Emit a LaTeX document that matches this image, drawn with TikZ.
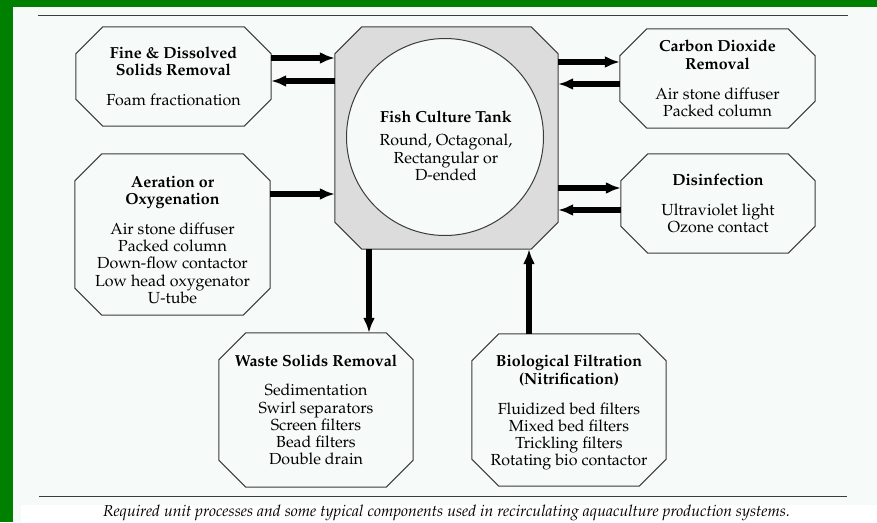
\documentclass[tikz,border=0pt]{standalone}
\usepackage[T1]{fontenc}
\usepackage{mathpazo}
\usepackage{tikz,xcolor}
\usetikzlibrary{arrows.meta,calc}

\definecolor{pagebg}{RGB}{246,250,248}
\definecolor{framegreen}{RGB}{0,128,0}
\definecolor{tankgray}{RGB}{220,220,220}
\definecolor{edgegray}{RGB}{60,60,60}

\tikzset{
  unitbox/.style={minimum width=195pt, inner sep=0pt, align=center,
    font=\fontsize{16}{17.2}\selectfont},
  flow/.style={line width=5.5pt, -{Latex[length=15pt,width=12pt]}},
  rulerline/.style={edgegray, line width=0.9pt}
}
% octagon outline round a (rectangular) node
\newcommand{\octagon}[2][]{%
  \draw[edgegray, line width=1pt, #1] ([xshift=27pt]#2.north west) -- ([xshift=-27pt]#2.north east)
    -- ([yshift=-27pt]#2.north east) -- ([yshift=27pt]#2.south east)
    -- ([xshift=-27pt]#2.south east) -- ([xshift=27pt]#2.south west)
    -- ([yshift=27pt]#2.south west) -- ([yshift=-27pt]#2.north west) -- cycle;}

\begin{document}
\begin{tikzpicture}[x=1pt,y=-1pt]
  \useasboundingbox (0,0) rectangle (877,522);
  \fill[pagebg] (0,0) rectangle (877,522);
  \fill[white] (21,505) rectangle (877,522);
  \fill[framegreen] (0,0) rectangle (877,7);
  \fill[framegreen] (0,0) rectangle (13,522);

  \draw[rulerline] (38,15) -- (848,15);
  \draw[rulerline] (39,496) -- (847,496);

  % the tank
  \node[minimum width=223pt, minimum height=222pt, inner sep=0pt] (tank) at (446.5,138) {};
  \octagon[fill=tankgray]{tank}
  \node[circle, draw=edgegray, line width=1pt, fill=pagebg, minimum size=197pt, inner sep=0pt] (tankcircle) at (445,137) {};
  \node[align=center, inner sep=0pt, font=\fontsize{16}{17.2}\selectfont] (tanktext) at (446,146)
    {\textbf{Fish Culture Tank}\\[5.8pt]Round, Octagonal,\\Rectangular or\\D-ended};

  % unit processes
  \node[unitbox, minimum height=99pt] (fine) at (173.5,76.5)
    {\textbf{Fine \& Dissolved}\\\textbf{Solids Removal}\\[12.8pt]Foam fractionation};
  \node[unitbox, minimum height=161pt] (aer) at (172.5,234.5)
    {\rule{0pt}{22pt}\textbf{Aeration or}\\\textbf{Oxygenation}\\[12.8pt]Air stone diffuser\\Packed column\\Down-flow contactor\\Low head oxygenator\\U-tube};
  \node[unitbox, minimum height=99pt] (co2) at (717.5,78.5)
    {\textbf{Carbon Dioxide}\\\textbf{Removal}\\[12.8pt]Air stone diffuser\\Packed column};
  \node[unitbox, minimum width=194pt, minimum height=99pt] (dis) at (718,203.5)
    {\textbf{Disinfection}\\[12.8pt]Ultraviolet light\\Ozone contact};
  \node[unitbox, minimum width=194pt, minimum height=154pt] (waste) at (316,410)
    {\textbf{Waste Solids Removal}\\[12pt]Sedimentation\\Swirl separators\\Screen filters\\Bead filters\\Double drain};
  \node[unitbox, minimum width=194pt, minimum height=152pt] (bio) at (569,410)
    {\rule{0pt}{17pt}\textbf{Biological Filtration}\\\textbf{(Nitrification)}\\[12.8pt]Fluidized bed filters\\Mixed bed filters\\Trickling filters\\Rotating bio contactor};
  \foreach \n in {fine,aer,co2,dis,waste,bio} {\octagon{\n}}

  % flows
  \coordinate (f1) at ([yshift=18.5pt]fine.east);
  \coordinate (f2) at ([yshift=-4.5pt]fine.east);
  \coordinate (c1) at ([yshift=16.5pt]co2.west);
  \coordinate (c2) at ([yshift=-5.5pt]co2.west);
  \coordinate (d1) at ([yshift=15.5pt]dis.west);
  \coordinate (d2) at ([yshift=-6.5pt]dis.west);
  \coordinate (a1) at ([yshift=40.5pt]aer.east);
  \coordinate (w1) at ([xshift=53pt]waste.north);
  \coordinate (b1) at ([xshift=-40pt]bio.north);
  \draw[flow] (f1) -- (f1 -| tank.west);
  \draw[flow] (f2 -| tank.west) -- (f2);
  \draw[flow] (c1 -| tank.east) -- (c1);
  \draw[flow] (c2) -- (c2 -| tank.east);
  \draw[flow] (d1 -| tank.east) -- (d1);
  \draw[flow] (d2) -- (d2 -| tank.east);
  \draw[flow] (a1) -- (a1 -| tank.west);
  \draw[flow] (w1 |- tank.south) -- (w1);
  \draw[flow] (b1) -- (b1 |- tank.south);

  \node[anchor=base, inner sep=0pt, font=\itshape\fontsize{15.8}{17}\selectfont] (caption) at (446.5,516.5)
    {Required unit processes and some typical components used in recirculating aquaculture production systems.};
\end{tikzpicture}
\end{document}
